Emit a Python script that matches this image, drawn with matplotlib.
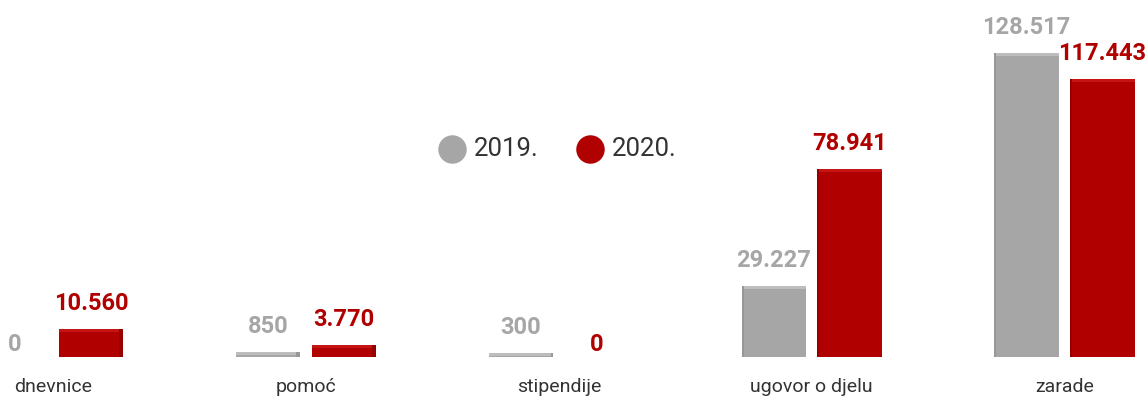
import matplotlib.pyplot as plt
import numpy as np

# data
categories = ["dnevnice", "pomoć", "stipendije", "ugovor o djelu", "zarade"]
v2019 = [0, 850, 300, 29227, 128517]
v2020 = [10560, 3770, 0, 78941, 117443]
years = ["2019.", "2020."]

gray = "#a6a6a6"
red = "#b00000"
gray_top = "#bdbdbd"
red_top = "#c41414"
gray_side = "#979797"
red_side = "#980000"

plt.rcParams['font.family'] = ['Roboto', 'DejaVu Sans']

fig = plt.figure(figsize=(11.48, 4.01), dpi=100)
ax = fig.add_axes([0, 0, 1, 1])
ax.set_xlim(-0.21, 4.33)
ax.set_ylim(-18800, 152500)
ax.axis("off")

x = np.arange(len(categories))
w = 0.255
off = 0.15

# px -> data units for the small 3D faces
px_y = (152500 + 18800) / 401
px_x = (4.33 + 0.21) / 1148
top_h = 3 * px_y

def fmt(v):
    return f"{v:,}".replace(",", ".")

for xs, vals, col, topcol, sidecol in [(x - off, v2019, gray, gray_top, gray_side),
                                       (x + off, v2020, red, red_top, red_side)]:
    ax.bar(xs, vals, width=w, color=col, linewidth=0)
    for i, (xi, v) in enumerate(zip(xs, vals)):
        if v > 0:
            ax.bar(xi, top_h, bottom=v, width=w, color=topcol, linewidth=0)
            # side face: right for the left groups, left for the right groups
            side_w = (4 if i < 2 else 2) * px_x
            sx = xi + w / 2 - side_w / 2 if i < 3 else xi - w / 2 + side_w / 2
            ax.bar(sx, v + top_h, width=side_w, color=sidecol, linewidth=0)
            ax.annotate(fmt(v), (xi, v + top_h), xytext=(0, 10), textcoords="offset points",
                        ha="center", va="bottom", fontsize=17, fontweight="bold", color=col)
        else:
            ax.annotate(fmt(v), (xi, 0), xytext=(0, 1), textcoords="offset points",
                        ha="center", va="bottom", fontsize=17, fontweight="bold", color=col)

for xi, c in zip(x, categories):
    ax.text(xi, -13000, c, ha="center", va="center", fontsize=14, color="#333333")

# legend
leg_x = [1.578, 2.123]
for lx, yr, col in zip(leg_x, years, [gray, red]):
    ax.scatter([lx], [89000], s=420, color=col, linewidths=0)
    ax.text(lx + 0.085, 89000, yr, ha="left", va="center", fontsize=18.5, color="#333333")

fig.savefig("out.png", dpi=100)
